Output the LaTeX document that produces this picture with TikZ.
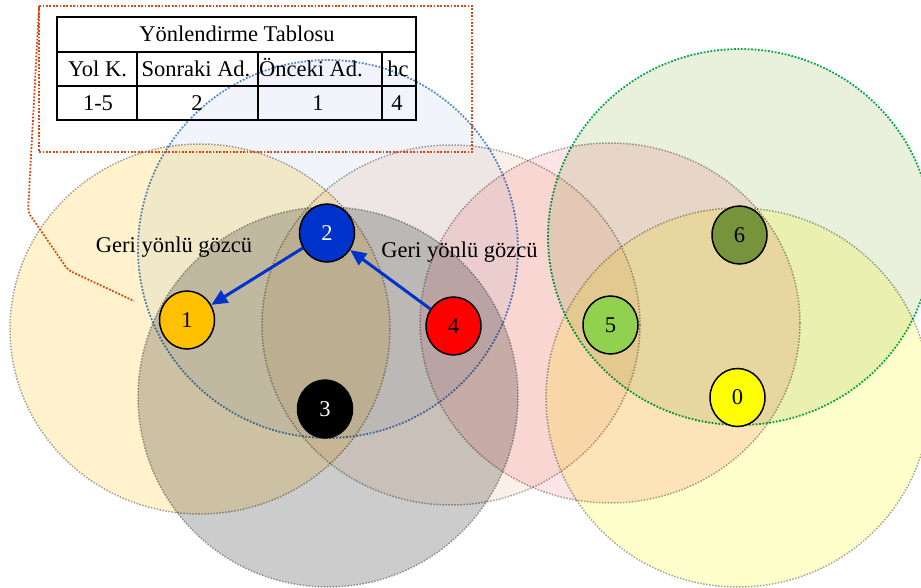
\documentclass[tikz,border=0pt]{standalone}
\usepackage{fontspec}
\setmainfont{Liberation Serif}
\usetikzlibrary{arrows.meta,shapes.geometric}

% outline colours
\definecolor{rangegray}{RGB}{165,165,165}
\definecolor{rangeblue}{RGB}{85,140,215}
\definecolor{rangegreen}{RGB}{0,176,80}
\definecolor{calloutred}{RGB}{215,70,20}
\definecolor{linkblue}{RGB}{0,51,204}
% coverage area fills (multiplied where they overlap)
\definecolor{covA}{RGB}{255,242,204}
\definecolor{covB}{RGB}{241,245,251}
\definecolor{covC}{RGB}{204,204,204}
\definecolor{covD}{RGB}{251,240,232}
\definecolor{covE}{RGB}{253,228,231}
\definecolor{covF}{RGB}{233,240,220}
\definecolor{covG}{RGB}{255,255,204}
% node fills
\definecolor{nodeA}{RGB}{255,192,0}
\definecolor{nodeB}{RGB}{0,51,204}
\definecolor{nodeD}{RGB}{255,0,0}
\definecolor{nodeE}{RGB}{146,208,80}
\definecolor{nodeF}{RGB}{119,147,60}
\definecolor{nodeG}{RGB}{255,255,0}

\begin{document}
\begin{tikzpicture}[x=1pt,y=-1pt,
  every node/.style={font=\fontsize{22.5}{27}\selectfont},
  coverage/.style={draw=rangegray, line width=1.5pt,
    dash pattern=on 1.5pt off 1.5pt, blend mode=multiply},
  coloured edge/.style={line width=1.8pt, dash pattern=on 1.8pt off 1.6pt},
  callout/.style={draw=calloutred, line width=1.8pt,
    dash pattern=on 1.8pt off 1.6pt},
  sensor/.style={ellipse, draw=black, line width=1.5pt,
    minimum width=55pt, minimum height=58pt, inner sep=0pt},
  link/.style={draw=linkblue, line width=3pt,
    -{Triangle[length=16pt,width=14pt]}},
  grid/.style={draw=black, line width=1.2pt},
  cell/.style={anchor=base, inner sep=0pt},
]
\useasboundingbox (0,0) rectangle (921,588);
\clip (0,0) rectangle (921,588);

% coverage areas of the sensors
\path[coverage, fill=covA] (200,329) ellipse [x radius=190pt, y radius=185pt];
\path[coverage, fill=covB, draw=rangeblue, coloured edge]
  (328,249) ellipse [x radius=190pt, y radius=189pt];
\path[coverage, fill=covC] (328,397) ellipse [x radius=190pt, y radius=190pt];
\path[coverage, fill=covD] (451,325) ellipse [x radius=189pt, y radius=180pt];
\path[coverage, fill=covE] (610,323) ellipse [x radius=190pt, y radius=180pt];
\path[coverage, fill=covF, draw=rangegreen, coloured edge]
  (740,237) ellipse [x radius=192pt, y radius=188pt];
\path[coverage, fill=covG] (738,397.5) ellipse [x radius=192pt, y radius=189.5pt];

% callout box with its leader
\path[callout] (39,6) rectangle (472,152);
\path[callout, rounded corners=4pt] (39,8) -- (28,212) -- (68,270) -- (134,301);

% routing table
\path[grid] (57,17) rectangle (416,120);
\path[grid] (57,52) -- (416,52);
\path[grid] (57,86) -- (416,86);
\path[grid] (137,52) -- (137,120);
\path[grid] (258,52) -- (258,120);
\path[grid] (382,52) -- (382,120);
\node[cell] (ttl) at (237,42) {Yönlendirme Tablosu};
\node[cell] (h1) at (97.5,77) {Yol K.};
\node[cell] (h2) at (196,77) {Sonraki Ad.};
\node[cell] (h3) at (311,77) {Önceki Ad.};
\node[cell] (h4) at (398,77) {hc};
\node[cell] (v1) at (98,111) {1-5};
\node[cell] (v2) at (197,111) {2};
\node[cell] (v3) at (318,111) {1};
\node[cell] (v4) at (397,111) {4};

% sensor nodes
\node[sensor, fill=nodeA] (n1) at (187,320) {1};
\node[sensor, fill=nodeB, text=white] (n2) at (327,233) {2};
\node[sensor, fill=black, text=white] (n3) at (325,409) {3};
\node[sensor, fill=nodeD] (n4) at (453.5,326) {4};
\node[sensor, fill=nodeE] (n5) at (610.5,325) {5};
\node[sensor, fill=nodeF] (n6) at (739.5,235) {6};
\node[sensor, fill=nodeG] (n0) at (737.5,397.5) {0};

% backward watchdog links
\path[link] (n2) -- (n1);
\path[link] (n4) -- (n2);
\node[cell] (w1) at (174,253) {Geri yönlü gözcü};
\node[cell] (w2) at (459.5,258) {Geri yönlü gözcü};
\end{tikzpicture}
\end{document}
